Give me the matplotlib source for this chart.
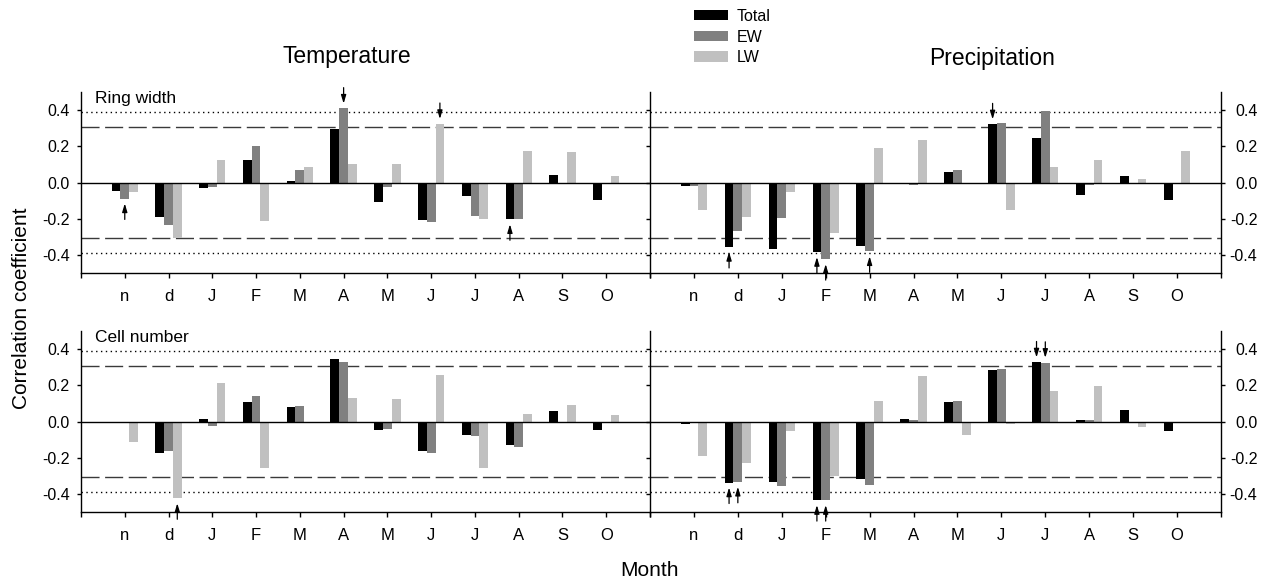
import matplotlib
matplotlib.use('Agg')
import matplotlib.pyplot as plt
import numpy as np

plt.rcParams['font.family'] = ['Liberation Sans', 'DejaVu Sans']
plt.rcParams['axes.unicode_minus'] = False

# ---------------- data ----------------
months = ['n', 'd', 'J', 'F', 'M', 'A', 'M', 'J', 'J', 'A', 'S', 'O']
series_names = ['Total', 'EW', 'LW']
series_colors = ['#000000', '#808080', '#c0c0c0']

# Temperature - Ring width
temp_rw_total = [-0.048, -0.193, -0.031, 0.122, 0.007, 0.293, -0.106, -0.207, -0.072, -0.204, 0.041, -0.094]
temp_rw_ew = [-0.089, -0.233, -0.026, 0.202, 0.070, 0.409, -0.026, -0.217, -0.187, -0.204, 0.0, 0.0]
temp_rw_lw = [-0.054, -0.307, 0.122, -0.215, 0.085, 0.100, 0.100, 0.324, -0.202, 0.174, 0.169, 0.035]

# Precipitation - Ring width
prec_rw_total = [-0.022, -0.357, -0.370, -0.385, -0.352, 0.0, 0.059, 0.322, 0.248, -0.067, 0.035, -0.094]
prec_rw_ew = [-0.022, -0.267, -0.198, -0.424, -0.381, -0.015, 0.070, 0.326, 0.396, -0.015, 0.0, 0.0]
prec_rw_lw = [-0.152, -0.193, -0.054, -0.280, 0.191, 0.235, -0.005, -0.152, 0.087, 0.122, 0.019, 0.174]

# Temperature - Cell number
temp_cn_total = [-0.007, -0.173, 0.013, 0.109, 0.078, 0.345, -0.049, -0.162, -0.076, -0.131, 0.058, -0.047]
temp_cn_ew = [-0.011, -0.165, -0.025, 0.142, 0.085, 0.327, -0.042, -0.173, -0.082, -0.140, 0.0, 0.0]
temp_cn_lw = [-0.116, -0.425, 0.211, -0.255, 0.0, 0.131, 0.125, 0.256, -0.255, 0.040, 0.091, 0.036]

# Precipitation - Cell number
prec_cn_total = [-0.013, -0.338, -0.334, -0.435, -0.317, 0.015, 0.110, 0.286, 0.327, 0.007, 0.066, -0.050]
prec_cn_ew = [-0.009, -0.334, -0.356, -0.435, -0.350, 0.007, 0.116, 0.292, 0.325, 0.006, 0.0, 0.0]
prec_cn_lw = [-0.191, -0.229, -0.055, -0.303, 0.112, 0.253, -0.072, -0.013, 0.167, 0.194, -0.031, -0.007]

# significance arrows: (month index, series index, direction)
temp_rw_arrows = [(0, 1, 'up'), (5, 1, 'down'), (7, 2, 'down'), (9, 0, 'up')]
prec_rw_arrows = [(1, 0, 'up'), (3, 0, 'up'), (3, 1, 'up'), (4, 1, 'up'), (7, 0, 'down')]
temp_cn_arrows = [(1, 2, 'up')]
prec_cn_arrows = [(1, 0, 'up'), (1, 1, 'up'), (3, 0, 'up'), (3, 1, 'up'), (8, 0, 'down'), (8, 1, 'down')]

# critical correlation values
r_05 = 0.304
r_01 = 0.39

y_ticks = [-0.4, -0.2, 0.0, 0.2, 0.4]

# ---------------- figure ----------------
W, H = 1274, 583
fig = plt.figure(figsize=(W / 100, H / 100), dpi=100)

def fx(px):
    return px / W

def fy(py):
    return 1 - py / H

ax_l, ax_m, ax_r = 81, 650, 1221
top_rows = [(92, 273), (331, 512)]

panels = [
    (0, 0, [temp_rw_total, temp_rw_ew, temp_rw_lw], temp_rw_arrows, 'Ring width'),
    (0, 1, [prec_rw_total, prec_rw_ew, prec_rw_lw], prec_rw_arrows, None),
    (1, 0, [temp_cn_total, temp_cn_ew, temp_cn_lw], temp_cn_arrows, 'Cell number'),
    (1, 1, [prec_cn_total, prec_cn_ew, prec_cn_lw], prec_cn_arrows, None),
]

x = np.arange(1, 13)
bw = 0.2
bar_handles = None

for row, col, vals, arrows, label in panels:
    t, b = top_rows[row]
    left = ax_l if col == 0 else ax_m
    right = ax_m if col == 0 else ax_r
    ax = fig.add_axes([fx(left), fy(b), fx(right - left), (b - t) / H])
    ax.set_xlim(0, 13)
    ax.set_ylim(-0.5, 0.5)

    for lv, ls, c in [(r_05, (0, (13, 4)), '#3a3a3a'), (-r_05, (0, (13, 4)), '#3a3a3a'),
                      (r_01, (0, (1, 2.5)), '#000000'), (-r_01, (0, (1, 2.5)), '#000000')]:
        ax.axhline(lv, color=c, lw=1.0, linestyle=ls, zorder=1)

    handles = []
    for i, (v, c) in enumerate(zip(vals, series_colors)):
        h = ax.bar(x + (i - 1) * bw, v, width=bw, color=c, edgecolor='none',
                   label=series_names[i], zorder=2)
        handles.append(h)
    if bar_handles is None:
        bar_handles = handles

    ax.axhline(0, color='black', lw=1.0, zorder=3)

    for mi, si, d in arrows:
        v = vals[si][mi]
        xx = x[mi] + (si - 1) * bw
        off = -15 if d == 'up' else 15
        ax.annotate('', xy=(xx, v), xytext=(0, off), textcoords='offset points',
                    arrowprops=dict(arrowstyle='-|>,head_length=0.5,head_width=0.15',
                                    color='black', lw=0.9, shrinkA=0, shrinkB=3.5,
                                    mutation_scale=10),
                    annotation_clip=False, zorder=4)

    ax.spines['top'].set_visible(False)
    if col == 0:
        ax.spines['right'].set_visible(False)
    for s in ['left', 'right', 'bottom']:
        ax.spines[s].set_linewidth(1.0)

    ax.set_yticks(y_ticks)
    ax.set_yticklabels(['%.1f' % v for v in y_ticks])
    ax.set_xticks(np.arange(0, 14))
    ax.set_xticklabels([''] + months + [''])
    ax.tick_params(axis='x', direction='out', length=3.5, width=1.0, pad=8,
                   labelsize=12, colors='black')
    if col == 0:
        ax.tick_params(axis='y', direction='out', length=3.2, width=1.0, left=True,
                       right=True, labelleft=True, labelright=False, pad=5,
                       labelsize=11.5)
    else:
        ax.tick_params(axis='y', direction='out', length=3.2, width=1.0, left=True,
                       right=True, labelleft=False, labelright=True, pad=23,
                       labelsize=11.5)
        for tk in ax.yaxis.get_major_ticks():
            tk.label2.set_horizontalalignment('right')

    if label:
        ax.text(0.025, 1.005, label, transform=ax.transAxes, ha='left', va='top',
                fontsize=12.5)

fig.text(fx(347), fy(57), 'Temperature', ha='center', va='center', fontsize=16.5)
fig.text(fx(992), fy(59), 'Precipitation', ha='center', va='center', fontsize=16.5)
fig.text(fx(22), fy(308), 'Correlation coefficient', rotation=90, ha='center',
         va='center', fontsize=15)
fig.text(fx(650), fy(571), 'Month', ha='center', va='center', fontsize=15)

fig.legend(handles=bar_handles, labels=series_names, loc='upper left',
           bbox_to_anchor=(fx(694), fy(9)), frameon=False, fontsize=11.5,
           handlelength=2.1, handleheight=0.6, handletextpad=0.55,
           labelspacing=0.35, borderpad=0, borderaxespad=0)

fig.savefig('out.png', dpi=100)
